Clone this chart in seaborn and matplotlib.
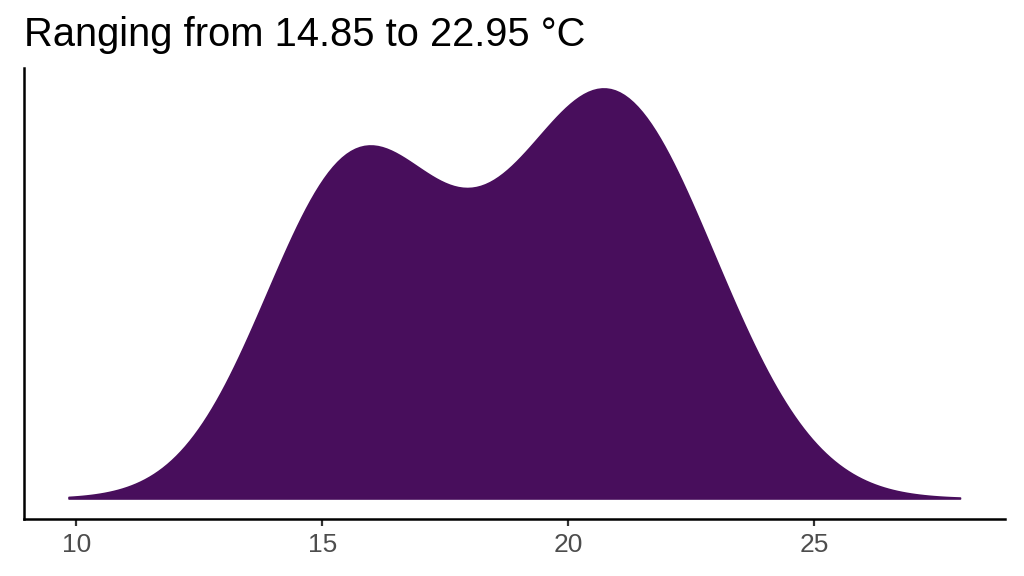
import numpy as np
import matplotlib
matplotlib.use('Agg')
import matplotlib.pyplot as plt
import seaborn as sns

temps = [14.85, 15.27, 15.37, 16.15, 16.84, 18.78, 20.03, 20.17, 21.14, 21.15, 21.71, 22.95]
xticks = [10, 15, 20, 25]
title = 'Ranging from %.2f to %.2f °C' % (min(temps), max(temps))

sns.set_style('white')
plt.rcParams['font.family'] = ['Liberation Sans', 'DejaVu Sans']

fig = plt.figure(figsize=(10.24, 5.76), dpi=100)
ax = fig.add_axes([0.0234, 0.099, 0.9576, 0.783])

purple = '#480E5C'
bw = 1.67
sns.kdeplot(x=temps, ax=ax, fill=True, alpha=1, color=purple, linewidth=1.2,
            bw_method=bw / np.std(temps, ddof=1), cut=3)

# ggplot-like 5% expansion on both axes
verts = ax.collections[0].get_paths()[0].vertices
xmin, xmax = verts[:, 0].min(), verts[:, 0].max()
ymax = verts[:, 1].max()
xr = xmax - xmin
ax.set_xlim(xmin - 0.05 * xr, xmax + 0.05 * xr)
ax.set_ylim(-0.05 * ymax, 1.05 * ymax)

ax.set_xticks(xticks)
ax.set_yticks([])
ax.set_xlabel('')
ax.set_ylabel('')
ax.tick_params(axis='x', length=5, width=1.6, color='#333333', labelsize=19,
               labelcolor='#4D4D4D', pad=5, bottom=True)
for s in ['top', 'right']:
    ax.spines[s].set_visible(False)
for s in ['left', 'bottom']:
    ax.spines[s].set_color('black')
    ax.spines[s].set_linewidth(1.8)

ax.set_title(title, loc='left', fontsize=28.7, pad=16, color='black')

plt.savefig('out.png', dpi=100)
